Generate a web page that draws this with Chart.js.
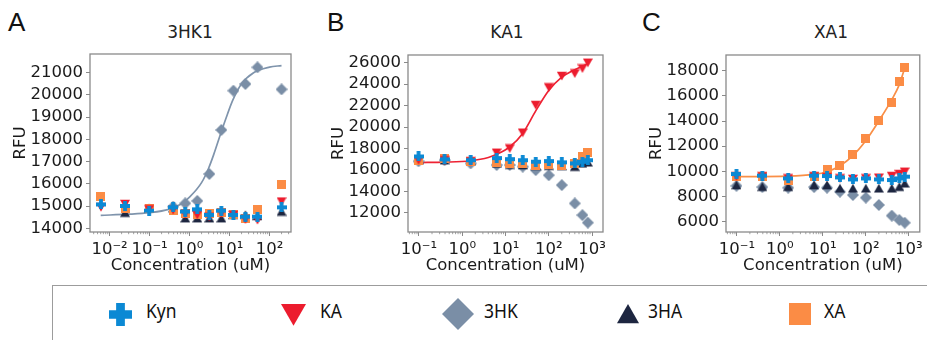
<!DOCTYPE html>
<html>
<head>
<meta charset="utf-8">
<script src="https://cdn.jsdelivr.net/npm/chart.js@4.4.1/dist/chart.umd.min.js"></script>
<style>
  body { margin:0; width:927px; height:340px; overflow:hidden; background:#fff; position:relative; font-family:"DejaVu Sans", sans-serif; }
  canvas.panel { position:absolute; top:0; }
  .letter { position:absolute; top:9px; font-family:"Liberation Sans", Arial, sans-serif; font-size:26px; color:#111; line-height:1; }
  .ttl { position:absolute; top:24px; font-size:17px; color:#222; line-height:1; transform:translateX(-50%); }
  #legend { position:absolute; left:52px; top:285px; width:900px; height:80px; border:1.5px solid #9c9c9c; box-sizing:border-box; }
  .lg-mark { position:absolute; }
  .lg-text { position:absolute; top:302px; font-family:"Noto Sans", sans-serif; font-size:19px; color:#111; line-height:1; transform:scaleX(0.92); transform-origin:left; }
</style>
</head>
<body>
<div class="letter" style="left:8px">A</div>
<div class="letter" style="left:327px">B</div>
<div class="letter" style="left:642px">C</div>
<div class="ttl" style="left:190px">3HK1</div>
<div class="ttl" style="left:507px">KA1</div>
<div class="ttl" style="left:831px">XA1</div>

<canvas id="chartA" class="panel" width="305" height="280" style="left:0px"></canvas>
<canvas id="chartB" class="panel" width="297" height="280" style="left:318px"></canvas>
<canvas id="chartC" class="panel" width="291" height="280" style="left:636px"></canvas>
<div id="legend"></div>

<script>
// ---- data ----
const seriesNames = ['Kyn', 'KA', '3HK', '3HA', 'XA'];

// panel A: 3HK1
const concA = [0.0061, 0.0244, 0.0977, 0.39, 0.78, 1.5625, 3.125, 6.25, 12.5, 25, 50, 200];
const aKyn = [15070, 15000, 14790, 14940, 14750, 14850, 14600, 14790, 14600, 14520, 14520, 14940];
const aKA  = [14950, 15090, 14850, 14820, 14640, 14600, 14520, 14670, 14600, 14400, 14370, 15200];
const a3HK = [null, null, null, 14970, 15120, 15230, 16440, 18420, 20190, 20490, 21240, 20250];
const a3HA = [null, 14700, 14900, 14900, 14450, 14450, 14450, 14450, 14600, 14600, 14550, 14750];
const aXA  = [15420, 14900, 14900, 14800, 14670, 14640, 14670, 14700, 14600, 14450, 14850, 15950];
const aFitX = [0.006, 0.03, 0.1, 0.3, 0.6, 1, 2, 3, 4, 6, 8, 12, 20, 40, 100, 200];
const aFitY = [14580, 14630, 14700, 14850, 15080, 15400, 16050, 16700, 17300, 18250, 18900, 19750, 20500, 21000, 21250, 21320];

// panels B and C share the concentration series
const concBC = [0.0977, 0.39, 1.5625, 6.25, 12.5, 25, 50, 100, 200, 400, 600, 800];

// panel B: KA1
const bKyn = [17250, 16980, 16900, 17100, 17000, 16900, 16760, 16820, 16700, 16600, 16760, 16900];
const bKA  = [16900, 16900, 16800, 17600, 18000, 19470, 22050, 23700, 24760, 25000, 25470, 26000];
const b3HK = [16800, 16900, 16600, 16450, 16450, 16300, 15980, 15500, 14580, 12870, 11780, 11070];
const b3HA = [16900, 16900, 16800, 16600, 16500, 16450, 16400, 16400, 16350, 16300, 16600, 16700];
const bXA  = [16900, 17100, 16800, 16670, 16600, 16600, 16450, 16500, 16400, 16600, 17230, 17600];
const bFitX = [0.1, 0.39, 1.56, 4, 6.25, 12.5, 25, 50, 100, 200, 400, 800];
const bFitY = [16680, 16720, 16850, 17150, 17450, 18150, 19400, 21500, 23400, 24650, 25350, 25900];

// panel C: XA1
const cKyn = [9790, 9660, 9440, 9660, 9630, 9520, 9360, 9440, 9360, 9310, 9440, 9580];
const cKA  = [9600, 9600, 9450, 9600, 9550, 9450, 9400, 9450, 9500, 9630, 9790, 9970];
const c3HK = [8850, 8750, 8700, 8750, 8700, 8380, 8120, 7910, 7330, 6480, 6130, 5920];
const c3HA = [8910, 8780, 8780, 8910, 8910, 8650, 8650, 8650, 8650, 8650, 8780, 9050];
const cXA  = [9580, 9580, 9310, 9580, 10110, 10500, 11350, 12620, 14030, 15460, 17130, 18260];
const cFitX = [0.1, 1.56, 6.25, 12.5, 25, 50, 100, 200, 400, 600, 800];
const cFitY = [9580, 9620, 9760, 9970, 10450, 11250, 12450, 14000, 15700, 16900, 18200];

// tick values / labels
const xTicksA = [0.01, 0.1, 1, 10, 100];
const xLabelsA = ['10\u207B\u00B2', '10\u207B\u00B9', '10\u2070', '10\u00B9', '10\u00B2'];
const xTicksBC = [0.1, 1, 10, 100, 1000];
const xLabelsBC = ['10\u207B\u00B9', '10\u2070', '10\u00B9', '10\u00B2', '10\u00B3'];
const yTicksA = [14000, 15000, 16000, 17000, 18000, 19000, 20000, 21000];
const yTicksB = [12000, 14000, 16000, 18000, 20000, 22000, 24000, 26000];
const yTicksC = [6000, 8000, 10000, 12000, 14000, 16000, 18000];

// ---- styling ----
const colors = { Kyn:'#0b89d4', KA:'#ec1c2e', '3HK':'#7a8ea6', '3HA':'#1d2640', XA:'#fb8c45' };
const shapes = { Kyn:'plus', KA:'down', '3HK':'diamond', '3HA':'up', XA:'square' };
const plotSize = { Kyn:10, KA:10, '3HK':12, '3HA':10, XA:9 };
const drawOrder = { Kyn:1, KA:2, XA:3, '3HA':4, '3HK':5 };

function marker(shape, color, s){
  const c = document.createElement('canvas');
  c.width = s; c.height = s;
  const g = c.getContext('2d');
  g.fillStyle = color;
  const h = s / 2;
  g.beginPath();
  if (shape === 'plus') {
    const t = s * 0.38;
    g.rect(h - t/2, 0, t, s);
    g.rect(0, h - t/2, s, t);
  } else if (shape === 'down') {
    g.moveTo(0, s*0.08); g.lineTo(s, s*0.08); g.lineTo(h, s*0.95); g.closePath();
  } else if (shape === 'up') {
    g.moveTo(h, s*0.05); g.lineTo(s, s*0.92); g.lineTo(0, s*0.92); g.closePath();
  } else if (shape === 'diamond') {
    g.moveTo(h, 0); g.lineTo(s, h); g.lineTo(h, s); g.lineTo(0, h); g.closePath();
  } else {
    g.rect(0, 0, s, s);
  }
  g.fill();
  return c;
}

function pts(xs, ys){
  const out = [];
  xs.forEach((x, i) => { if (ys[i] !== null) out.push({ x, y: ys[i] }); });
  return out;
}

// box + matplotlib-ish minor ticks on the log axis
const framePlugin = {
  id: 'frame',
  afterDraw(chart){
    const { ctx, chartArea: a, scales: { x } } = chart;
    ctx.save();
    ctx.strokeStyle = '#8a8a8a';
    ctx.lineWidth = 1.3;
    ctx.strokeRect(a.left, a.top, a.right - a.left, a.bottom - a.top);
    ctx.lineWidth = 0.8;
    const lo = Math.floor(Math.log10(x.min)), hi = Math.ceil(Math.log10(x.max));
    for (let d = lo; d <= hi; d++) {
      for (let k = 2; k <= 9; k++) {
        const v = k * Math.pow(10, d);
        if (v < x.min || v > x.max) continue;
        const px = x.getPixelForValue(v);
        ctx.beginPath(); ctx.moveTo(px, a.bottom); ctx.lineTo(px, a.bottom + 2.2); ctx.stroke();
      }
    }
    ctx.restore();
  }
};

function makePanel(id, p){
  const datasets = [{
    label: 'fit',
    data: pts(p.fitX, p.fitY),
    showLine: true,
    borderColor: p.fitColor,
    borderWidth: 1.7,
    pointRadius: 0,
    cubicInterpolationMode: 'monotone',
    order: 10
  }];
  seriesNames.forEach((name, i) => {
    datasets.push({
      label: name,
      data: pts(p.conc, p.series[i]),
      pointStyle: marker(shapes[name], colors[name], plotSize[name]),
      pointRadius: 5,
      order: drawOrder[name]
    });
  });

  const tickFont = { family: '"DejaVu Sans", sans-serif', size: 16.5 };
  return new Chart(document.getElementById(id), {
    type: 'scatter',
    data: { datasets },
    options: {
      responsive: false,
      animation: false,
      devicePixelRatio: 1,
      layout: { padding: { top: p.top, right: p.right, left: 0, bottom: 0 } },
      plugins: { legend: { display: false }, tooltip: { enabled: false } },
      scales: {
        x: {
          type: 'logarithmic',
          min: p.xMin, max: p.xMax,
          afterBuildTicks: s => { s.ticks = p.xTicks.map(v => ({ value: v })); },
          afterFit: s => { s.height = 280 - p.bottom; },
          ticks: {
            autoSkip: false, maxRotation: 0, padding: 4, color: '#1a1a1a', font: tickFont,
            callback: (v) => p.xLabels[p.xTicks.indexOf(v)] ?? ''
          },
          grid: { drawOnChartArea: false, tickLength: 4, color: '#8a8a8a' },
          border: { display: false },
          title: { display: true, text: 'Concentration (uM)', color: '#1a1a1a', font: tickFont, padding: { top: 0, bottom: 4.5 } }
        },
        y: {
          min: p.yMin, max: p.yMax,
          afterBuildTicks: s => { s.ticks = p.yTicks.map(v => ({ value: v })); },
          afterFit: s => { s.width = 90; },
          ticks: { padding: 3, color: '#1a1a1a', font: tickFont, callback: v => String(v) },
          grid: { drawOnChartArea: false, tickLength: 4, color: '#8a8a8a' },
          border: { display: false },
          title: { display: true, text: 'RFU', color: '#1a1a1a', font: tickFont, padding: { top: 10.5, bottom: 0 } }
        }
      }
    },
    plugins: [framePlugin]
  });
}

makePanel('chartA', {
  conc: concA, series: [aKyn, aKA, a3HK, a3HA, aXA],
  fitX: aFitX, fitY: aFitY, fitColor: '#7f94ac',
  xMin: 0.00324, xMax: 345, xTicks: xTicksA, xLabels: xLabelsA,
  yMin: 13830, yMax: 21840, yTicks: yTicksA,
  top: 54, bottom: 232, right: 14
});
makePanel('chartB', {
  conc: concBC, series: [bKyn, bKA, b3HK, b3HA, bXA],
  fitX: bFitX, fitY: bFitY, fitColor: '#ee2233',
  xMin: 0.0557, xMax: 1795, xTicks: xTicksBC, xLabels: xLabelsBC,
  yMin: 10200, yMax: 26720, yTicks: yTicksB,
  top: 55, bottom: 232, right: 12
});
makePanel('chartC', {
  conc: concBC, series: [cKyn, cKA, c3HK, c3HA, cXA],
  fitX: cFitX, fitY: cFitY, fitColor: '#f98f47',
  xMin: 0.0557, xMax: 1795, xTicks: xTicksBC, xLabels: xLabelsBC,
  yMin: 5180, yMax: 19250, yTicks: yTicksC,
  top: 55, bottom: 232, right: 5
});

// legend strip
const legendMarkX = [120, 293, 458, 628, 800];
const legendTextX = [146, 320, 484, 648, 824];
const legendSize = { Kyn:23, KA:25, '3HK':32, '3HA':22, XA:22 };
seriesNames.forEach((name, i) => {
  const s = legendSize[name];
  const m = marker(shapes[name], colors[name], s);
  m.className = 'lg-mark';
  m.style.left = (legendMarkX[i] - s/2) + 'px';
  m.style.top = (314 - s/2) + 'px';
  document.body.appendChild(m);
  const t = document.createElement('div');
  t.className = 'lg-text';
  t.style.left = legendTextX[i] + 'px';
  t.textContent = name;
  document.body.appendChild(t);
});
</script>
</body>
</html>
